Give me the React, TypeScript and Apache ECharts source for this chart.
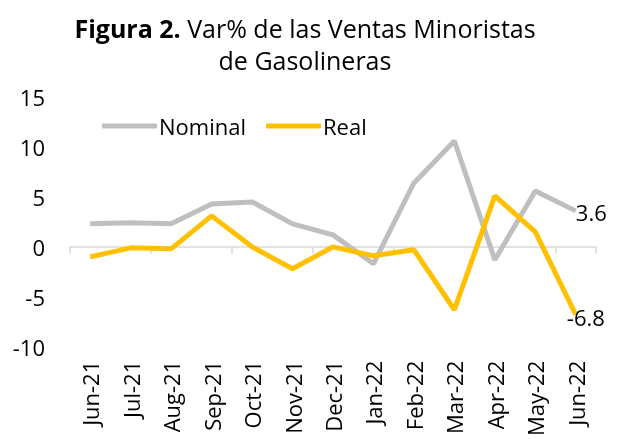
import React, { useEffect, useRef } from "react";
import * as echarts from "echarts";

const categories = ["Jun-21","Jul-21","Aug-21","Sep-21","Oct-21","Nov-21","Dec-21","Jan-22","Feb-22","Mar-22","Apr-22","May-22","Jun-22"];
const nominal = [2.3, 2.4, 2.3, 4.3, 4.5, 2.3, 1.2, -1.7, 6.4, 10.6, -1.3, 5.6, 3.6];
const real = [-1.0, -0.1, -0.2, 3.1, 0.0, -2.2, 0.0, -0.9, -0.3, -6.3, 5.1, 1.5, -6.8];
const yTicks = { min: -10, max: 15, interval: 5 };

const FONT = "'Open Sans', 'Noto Sans', sans-serif";

export default function App() {
  const ref = useRef<HTMLDivElement>(null);
  useEffect(() => {
    if (!ref.current) return;
    const chart = echarts.init(ref.current, null, { renderer: "svg" });
    const last = categories.length - 1;
    const lbl = { fontSize: 22, color: "#000", fontFamily: FONT, formatter: (p: any) => Number(p.value).toFixed(1) };
    chart.setOption({
      animation: false,
      textStyle: { fontFamily: FONT },
      title: {
        text: "{b|Figura 2.} Var% de las Ventas Minoristas\nde Gasolineras",
        left: 300,
        textAlign: "center",
        top: 7,
        textStyle: {
          fontFamily: FONT,
          fontSize: 25,
          fontWeight: "normal",
          color: "#000",
          lineHeight: 32,
          rich: {
            b: { fontFamily: FONT, fontSize: 25, fontWeight: "bold", color: "#000", lineHeight: 32 },
          },
        },
      },
      legend: {
        top: 110,
        left: 97,
        itemWidth: 55,
        itemHeight: 5,
        itemGap: 20,
        icon: "roundRect",
        textStyle: { fontFamily: FONT, fontSize: 22, color: "#000", padding: [0, 0, 0, -3] },
        data: ["Nominal", "Real"],
      },
      grid: { left: 70, right: 25, top: 97, bottom: 91 },
      xAxis: [
        {
          type: "category",
          data: categories,
          axisLine: { onZero: true, lineStyle: { color: "#d9d9d9", width: 1.5 } },
          axisTick: { show: true, length: 7, lineStyle: { color: "#d9d9d9", width: 1.5 } },
          axisLabel: { show: false },
        },
        {
          type: "category",
          data: categories,
          position: "bottom",
          axisLine: { show: false, onZero: false },
          axisTick: { show: false },
          axisLabel: { rotate: 90, fontSize: 22, color: "#000", margin: 14, fontFamily: FONT },
        },
      ],
      yAxis: {
        type: "value",
        min: yTicks.min,
        max: yTicks.max,
        interval: yTicks.interval,
        splitLine: { show: false },
        axisLine: { show: false },
        axisTick: { show: false },
        axisLabel: { fontSize: 22, color: "#000", margin: 25, fontFamily: FONT },
      },
      series: [
        {
          name: "Nominal",
          type: "line",
          data: nominal.map((v, i) =>
            i === last
              ? { value: v, label: { show: true, position: "right", distance: 0, offset: [0, 1] } }
              : v
          ),
          symbol: "circle",
          symbolSize: 0.1,
          showSymbol: true,
          lineStyle: { color: "#BFBFBF", width: 5 },
          itemStyle: { color: "#BFBFBF" },
          label: { show: false, ...lbl },
        },
        {
          name: "Real",
          type: "line",
          data: real.map((v, i) =>
            i === last
              ? { value: v, label: { show: true, position: "right", distance: 0, offset: [-9, 2] } }
              : v
          ),
          symbol: "circle",
          symbolSize: 0.1,
          showSymbol: true,
          lineStyle: { color: "#FFC000", width: 5 },
          itemStyle: { color: "#FFC000" },
          label: { show: false, ...lbl },
        },
      ],
    });
    return () => chart.dispose();
  }, []);
  return <div ref={ref} style={{ position: "fixed", left: 0, top: 0, width: 621, height: 439 }} />;
}
